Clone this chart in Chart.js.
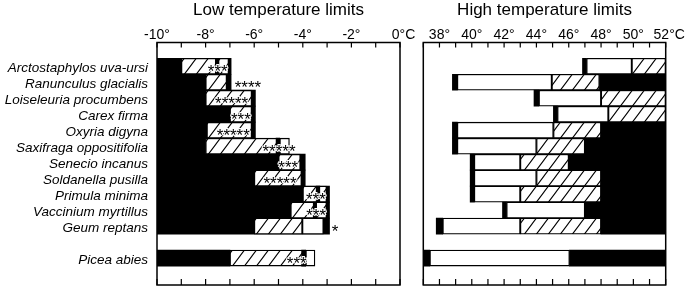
<!DOCTYPE html>
<html>
<head>
<meta charset="utf-8">
<script src="https://cdn.jsdelivr.net/npm/chart.js@4.4.0/dist/chart.umd.min.js"></script>
<style>
  html, body { margin: 0; padding: 0; background: #fff; }
  #wrap { position: relative; width: 685px; height: 288px; }
  .panel { position: absolute; top: 0; height: 288px; }
  #left { left: 0; width: 420px; }
  #right { left: 412px; width: 273px; }
</style>
</head>
<body>
<div id="wrap">
  <div class="panel" id="left"><canvas id="lowChart"></canvas></div>
  <div class="panel" id="right"><canvas id="highChart"></canvas></div>
</div>
<script>
// rows top to bottom, row 11 is the empty gap
const species = ['Arctostaphylos uva-ursi', 'Ranunculus glacialis', 'Loiseleuria procumbens', 'Carex firma',
  'Oxyria digyna', 'Saxifraga oppositifolia', 'Senecio incanus', 'Soldanella pusilla', 'Primula minima',
  'Vaccinium myrtillus', 'Geum reptans', '', 'Picea abies'];

// low temperature limits (°C)
const lowBlackEnd  = [-6.95, -6.95, -5.95, -5.95, -5.95, -8, -3.9, -3.9, -2.9, -2.9, -2.9, null, -7];
const lowHatchFrom = [-9, -8, -8, -7, -7.95, -8, -5, -6, -4, -4.5, -6, null, -7];
const lowHatchTo   = [-7.05, -7.13, -6.1, -6.1, -6.1, -4.95, -4.1, -4.05, -3.02, -3.02, -4.02, null, -3.88];
const lowWhiteFrom = [null, null, null, null, null, -4.95, null, null, null, null, -4.02, null, -3.88];
const lowWhiteTo   = [null, null, null, null, null, -4.55, null, null, null, null, -3.15, null, -3.5];
const lowMarkFrom  = [-7.6, null, null, null, null, -5.1, null, null, -3.45, -3.57, null, null, -4.05];
const lowMarkTo    = [-7.45, null, null, null, null, -4.95, null, null, -3.3, -3.43, null, null, -3.88];
const lowStars     = ['***', '****', '*****', '***', '*****', '*****', '***', '*****', '***', '***', '*', '', '***'];
const lowStarAt    = [-7.5, -6.26, -6.93, -6.55, -6.86, -4.98, -4.6, -4.94, -3.46, -3.45, -2.67, null, -4.25];

// high temperature limits (°C)
const highMarkFrom  = [46.85, 38.8, 43.85, 45.05, 38.8, 38.8, 39.9, 39.9, 39.9, 41.9, 37.8, null, 37.05];
const highMarkTo    = [47.1, 39.1, 44.15, 45.3, 39.1, 39.1, 40.15, 40.15, 40.15, 42.15, 38.2, null, 37.4];
const highWhiteTo   = [49.9, 44.95, 48, 48.45, 45.05, 44, 43, 44, 43, 47, 43, null, 46.05];
const highHatchTo   = [52, 47.9, 52, 52, 48, 47, 46, 48, 48, null, 48, null, null];
const highBlackFrom = [null, 47.9, null, null, 48, 47, 46, 48, 48, 47, 48, null, 46.05];

const FONT = '"Liberation Sans", Arial, sans-serif';

// diagonal hatch fill
function makeHatch() {
  const c = document.createElement('canvas');
  c.width = 12; c.height = 16;
  const g = c.getContext('2d');
  g.fillStyle = '#fff';
  g.fillRect(0, 0, 12, 16);
  g.strokeStyle = '#000';
  g.lineWidth = 1.1;
  g.beginPath();
  [-12, 0, 12].forEach(dx => { g.moveTo(-3 + dx, 20); g.lineTo(15 + dx, -4); });
  g.stroke();
  return g.createPattern(c, 'repeat');
}
const hatch = makeHatch();

function segs(from, to, fixedTo) {
  const out = [];
  for (let i = 0; i < from.length; i++) {
    const end = fixedTo !== undefined ? fixedTo : to[i];
    if (from[i] !== null && end !== null) out.push({ y: i, x: [from[i], end] });
  }
  return out;
}

function barSet(data, fill, border, order) {
  return {
    data: data,
    backgroundColor: fill,
    borderColor: '#000',
    borderWidth: border,
    borderSkipped: false,
    grouped: false,
    barPercentage: 1,
    categoryPercentage: 1,
    order: order
  };
}

// frame, inward ticks, panel title and asterisks
function framePlugin(title, stars, starAt) {
  return {
    id: 'frame',
    afterDraw(chart) {
      const { ctx, chartArea: a, scales: { x, y } } = chart;
      ctx.save();
      ctx.strokeStyle = '#000';
      ctx.lineWidth = 1.5;
      ctx.strokeRect(a.left, a.top, a.right - a.left, a.bottom - a.top);
      ctx.lineWidth = 1.2;
      ctx.beginPath();
      for (let v = x.min; v <= x.max; v++) {
        const px = x.getPixelForValue(v);
        ctx.moveTo(px, a.top); ctx.lineTo(px, a.top + 5);
        ctx.moveTo(px, a.bottom); ctx.lineTo(px, a.bottom - 6);
      }
      ctx.stroke();

      ctx.fillStyle = '#000';
      ctx.font = '17px ' + FONT;
      ctx.textAlign = 'center';
      ctx.textBaseline = 'alphabetic';
      ctx.fillText(title, (a.left + a.right) / 2, 14.5);

      if (stars) {
        ctx.font = '17px ' + FONT;
        ctx.lineWidth = 2;
        ctx.strokeStyle = '#fff';
        stars.forEach((s, i) => {
          if (!s) return;
          const px = x.getPixelForValue(starAt[i]);
          const py = y.getPixelForValue(i) + 11;
          ctx.strokeText(s, px, py);
          ctx.fillText(s, px, py);
        });
      }
      ctx.restore();
    }
  };
}

function yScale(show) {
  return {
    type: 'linear',
    reverse: true,
    min: -0.9,
    max: 13.1,
    display: show,
    afterBuildTicks: s => { s.ticks = species.map((n, i) => ({ value: i })); },
    ticks: {
      autoSkip: false,
      padding: 9,
      labelOffset: 2,
      color: '#000',
      font: { family: FONT, size: 13.5, style: 'italic' },
      callback: v => species[v] || ''
    },
    grid: { display: false, drawTicks: false },
    border: { display: false },
    afterFit: s => { s.width = show ? 157 : 0; s.paddingTop = 0; s.paddingBottom = 0; }
  };
}

function xScale(min, max, unitAt) {
  return {
    type: 'linear',
    position: 'top',
    min: min,
    max: max,
    ticks: {
      stepSize: 1,
      autoSkip: false,
      maxRotation: 0,
      padding: -1,
      color: '#000',
      font: { family: FONT, size: 14 },
      callback: v => (v % 2 ? '' : (v === unitAt ? '\u2002' + v + '°C' : v + '°'))
    },
    grid: { display: false, drawTicks: false },
    border: { display: false },
    afterFit: s => { s.height = 42.5; s.paddingLeft = 0; s.paddingRight = 0; }
  };
}

const common = {
  indexAxis: 'y',
  responsive: true,
  maintainAspectRatio: false,
  animation: false,
  plugins: { legend: { display: false }, tooltip: { enabled: false } }
};

new Chart(document.getElementById('lowChart'), {
  type: 'bar',
  data: {
    datasets: [
      barSet(segs(lowMarkFrom, lowMarkTo), '#000', 0, 0),
      barSet(segs(lowWhiteFrom, lowWhiteTo), '#fff', 1.3, 1),
      barSet(segs(lowHatchFrom, lowHatchTo), hatch, 1.3, 2),
      barSet(segs(lowBlackEnd.map(v => (v === null ? null : -10)), lowBlackEnd), '#000', 0, 3)
    ]
  },
  options: Object.assign({}, common, {
    layout: { padding: { left: 0, right: 20, top: 0, bottom: 3 } },
    scales: { x: xScale(-10, 0, 0), y: yScale(true) }
  }),
  plugins: [framePlugin('Low temperature limits', lowStars, lowStarAt)]
});

new Chart(document.getElementById('highChart'), {
  type: 'bar',
  data: {
    datasets: [
      barSet(segs(highMarkFrom, highMarkTo), '#000', 0, 0),
      barSet(segs(highMarkTo, highWhiteTo), '#fff', 1.3, 1),
      barSet(segs(highWhiteTo.map((v, i) => (highHatchTo[i] === null ? null : v)), highHatchTo), hatch, 1.3, 2),
      barSet(segs(highBlackFrom, null, 52), '#000', 0, 3)
    ]
  },
  options: Object.assign({}, common, {
    layout: { padding: { left: 11.3, right: 19.3, top: 0, bottom: 3 } },
    scales: { x: xScale(37, 52, 52), y: yScale(false) }
  }),
  plugins: [framePlugin('High temperature limits', null, null)]
});
</script>
</body>
</html>
